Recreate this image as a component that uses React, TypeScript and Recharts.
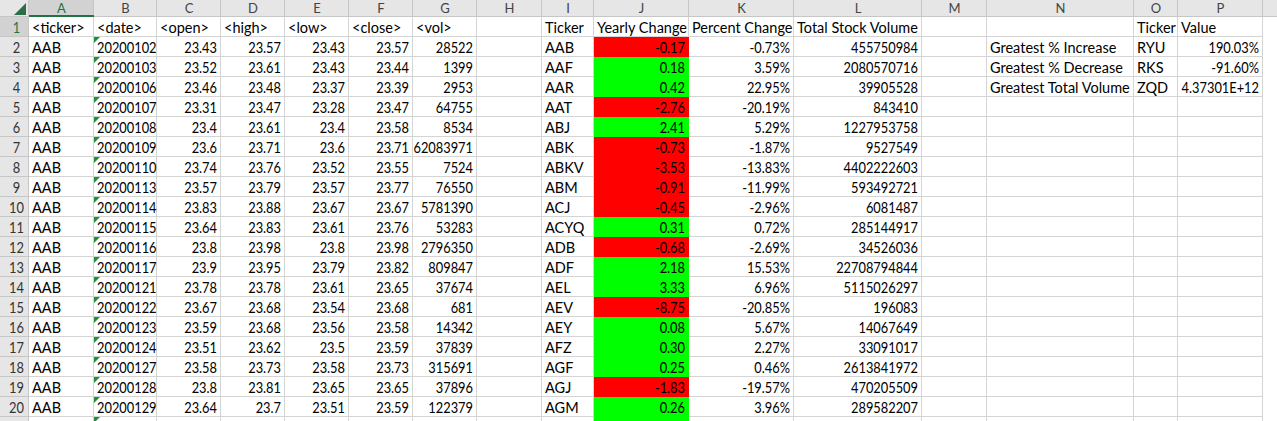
import React from "react";
import { Bar, BarChart, ReferenceArea, XAxis, YAxis } from "recharts";

const FONT = "Lato, 'Liberation Sans', sans-serif";
const GRID = "#D4D4D4";
const HEADER_BG = "#E6E6E6";
const HEADER_LINE = "#C6C6C6";
const HEADER_SEL = "#D2D2D2";
const EXCEL_GREEN = "#217346";
const FLAG_GREEN = "#1E8F3A";
const RED = "#FF0000";
const LIME = "#00FF00";
// Lato figures are wider than the sheet's; squeeze numeric strings a little
const DIGIT_SQUEEZE = 0.885;

// sheet rows 1..21 (21 is cut off at the bottom)
const rowNumbers = [1, 2, 3, 4, 5, 6, 7, 8, 9, 10, 11, 12, 13, 14, 15, 16, 17, 18, 19, 20, 21];

// raw data, columns A..G
const rawHeaders = ["<ticker>", "<date>", "<open>", "<high>", "<low>", "<close>", "<vol>"];
const tickers = [
  "AAB", "AAB", "AAB", "AAB", "AAB", "AAB", "AAB", "AAB", "AAB", "AAB",
  "AAB", "AAB", "AAB", "AAB", "AAB", "AAB", "AAB", "AAB", "AAB",
];
const dates = [
  "20200102", "20200103", "20200106", "20200107", "20200108", "20200109", "20200110",
  "20200113", "20200114", "20200115", "20200116", "20200117", "20200121", "20200122",
  "20200123", "20200124", "20200127", "20200128", "20200129",
];
const opens = [23.43, 23.52, 23.46, 23.31, 23.4, 23.6, 23.74, 23.57, 23.83, 23.64, 23.8, 23.9, 23.78, 23.67, 23.59, 23.51, 23.58, 23.8, 23.64];
const highs = [23.57, 23.61, 23.48, 23.47, 23.61, 23.71, 23.76, 23.79, 23.88, 23.83, 23.98, 23.95, 23.78, 23.68, 23.68, 23.62, 23.73, 23.81, 23.7];
const lows = [23.43, 23.43, 23.37, 23.28, 23.4, 23.6, 23.52, 23.57, 23.67, 23.61, 23.8, 23.79, 23.61, 23.54, 23.56, 23.5, 23.58, 23.65, 23.51];
const closes = [23.57, 23.44, 23.39, 23.47, 23.58, 23.71, 23.55, 23.77, 23.67, 23.76, 23.98, 23.82, 23.65, 23.68, 23.58, 23.59, 23.73, 23.65, 23.59];
const vols = [28522, 1399, 2953, 64755, 8534, 62083971, 7524, 76550, 5781390, 53283, 2796350, 809847, 37674, 681, 14342, 37839, 315691, 37896, 122379];

// summary table, columns I..L
const summaryHeaders = ["Ticker", "Yearly Change", "Percent Change", "Total Stock Volume"];
const summaryTickers = [
  "AAB", "AAF", "AAR", "AAT", "ABJ", "ABK", "ABKV", "ABM", "ACJ", "ACYQ",
  "ADB", "ADF", "AEL", "AEV", "AEY", "AFZ", "AGF", "AGJ", "AGM",
];
// last value belongs to the cut-off row 21: only its green fill shows
const yearlyChanges = [-0.17, 0.18, 0.42, -2.76, 2.41, -0.73, -3.53, -0.91, -0.45, 0.31, -0.68, 2.18, 3.33, -8.75, 0.08, 0.3, 0.25, -1.83, 0.26, 0.5];
const percentChanges = [-0.73, 3.59, 22.95, -20.19, 5.29, -1.87, -13.83, -11.99, -2.96, 0.72, -2.69, 15.53, 6.96, -20.85, 5.67, 2.27, 0.46, -19.57, 3.96];
const totalVolumes = [
  455750984, 2080570716, 39905528, 843410, 1227953758, 9527549, 4402222603, 593492721, 6081487,
  285144917, 34526036, 22708794844, 5115026297, 196083, 14067649, 33091017, 2613841972, 470205509, 289582207,
];

// greatest table, columns N..P
const greatestHeaders = ["Ticker", "Value"];
const greatestLabels = ["Greatest % Increase", "Greatest % Decrease", "Greatest Total Volume"];
const greatestTickers = ["RYU", "RKS", "ZQD"];
const greatestValues = ["190.03%", "-91.60%", "4.37301E+12"];

// column layout (pixel widths)
const columnDefs = [
  { key: "hdr", label: "", width: 29 },
  { key: "A", label: "A", width: 65 },
  { key: "B", label: "B", width: 63 },
  { key: "C", label: "C", width: 64 },
  { key: "D", label: "D", width: 64 },
  { key: "E", label: "E", width: 64 },
  { key: "F", label: "F", width: 64 },
  { key: "G", label: "G", width: 64 },
  { key: "H", label: "H", width: 65 },
  { key: "I", label: "I", width: 52 },
  { key: "J", label: "J", width: 95 },
  { key: "K", label: "K", width: 105 },
  { key: "L", label: "L", width: 128 },
  { key: "M", label: "M", width: 65 },
  { key: "N", label: "N", width: 147 },
  { key: "O", label: "O", width: 44 },
  { key: "P", label: "P", width: 85 },
  { key: "rest", label: "", width: 14 },
];

let acc = 0;
const columns = columnDefs.map((c) => {
  const start = acc;
  acc += c.width;
  return { ...c, start, center: start + c.width / 2 };
});
const TOTAL_W = acc;
const colA = columns.find((c) => c.key === "A")!;

type SheetCell = { text?: string; right?: boolean; fill?: string; flag?: boolean };

const txt = (v?: string): SheetCell => (v === undefined ? {} : { text: v });
const num = (v?: number | string): SheetCell => (v === undefined ? {} : { text: String(v), right: true });

const rows = rowNumbers.map((n) => {
  const i = n - 2;
  const cells: Record<string, SheetCell> = {};
  // row 21's number sits below the visible edge
  cells.hdr = n <= 20 ? { text: String(n) } : {};
  if (n === 1) {
    ["A", "B", "C", "D", "E", "F", "G"].forEach((k, j) => (cells[k] = txt(rawHeaders[j])));
    ["I", "J", "K", "L"].forEach((k, j) => (cells[k] = txt(summaryHeaders[j])));
    cells.O = txt(greatestHeaders[0]);
    cells.P = txt(greatestHeaders[1]);
  } else {
    cells.A = txt(tickers[i]);
    cells.B = { ...txt(dates[i]), flag: true };
    cells.C = num(opens[i]);
    cells.D = num(highs[i]);
    cells.E = num(lows[i]);
    cells.F = num(closes[i]);
    cells.G = num(vols[i]);
    cells.I = txt(summaryTickers[i]);
    const yc = yearlyChanges[i];
    if (yc !== undefined) {
      cells.J = {
        text: summaryTickers[i] !== undefined ? yc.toFixed(2) : undefined,
        right: true,
        fill: yc < 0 ? RED : LIME,
      };
    }
    const pc = percentChanges[i];
    cells.K = pc === undefined ? {} : num(pc.toFixed(2) + "%");
    cells.L = num(totalVolumes[i]);
    cells.N = txt(greatestLabels[i]);
    cells.O = txt(greatestTickers[i]);
    cells.P = num(greatestValues[i]);
  }
  const row: Record<string, unknown> = { row: String(n), cells };
  columns.forEach((c) => (row[c.key] = c.width));
  return row;
});

const isNumeric = (s: string) => /^[-+0-9.%E]+$/.test(s);

function CellText({ x, y, text, anchor, fill, size = 14.5 }: any) {
  const squeeze = isNumeric(text) ? DIGIT_SQUEEZE : 1;
  return (
    <text
      transform={`translate(${x},${y}) scale(${squeeze},1)`}
      x={0}
      y={0}
      textAnchor={anchor}
      fontFamily={FONT}
      fontSize={size}
      fill={fill}
    >
      {text}
    </text>
  );
}

const makeCellShape = (colKey: string) => (props: any) => {
  const { x, y, width, height, payload } = props;
  const rowNum = Number(payload.row);
  const cell: SheetCell = (payload.cells && payload.cells[colKey]) || {};
  if (colKey === "rest") {
    return <rect x={x} y={y} width={width} height={height} fill="#FFFFFF" />;
  }
  if (colKey === "hdr") {
    const sel = rowNum === 1;
    return (
      <g>
        <rect x={x} y={y} width={width} height={height} fill={sel ? HEADER_SEL : HEADER_BG} />
        <line x1={x + width - 0.5} y1={y} x2={x + width - 0.5} y2={y + height} stroke={HEADER_LINE} />
        <line x1={x} y1={y + height - 0.5} x2={x + width} y2={y + height - 0.5} stroke={HEADER_LINE} />
        {cell.text && (
          <CellText
            x={x + width / 2 + 2}
            y={y + height - 4}
            text={cell.text}
            anchor="middle"
            fill={sel ? EXCEL_GREEN : "#333333"}
          />
        )}
      </g>
    );
  }
  const filled = !!cell.fill;
  return (
    <g>
      <rect x={x} y={y} width={width} height={height} fill={cell.fill || "#FFFFFF"} />
      {!filled && (
        <>
          <line x1={x + width - 0.5} y1={y} x2={x + width - 0.5} y2={y + height} stroke={GRID} />
          <line x1={x} y1={y + height - 0.5} x2={x + width} y2={y + height - 0.5} stroke={GRID} />
        </>
      )}
      {cell.flag && (
        <polygon points={`${x},${y} ${x + 6},${y} ${x},${y + 6}`} fill={FLAG_GREEN} />
      )}
      {cell.text && (
        <CellText
          x={cell.right ? x + width - 4 : x + 3}
          y={y + height - 4}
          text={cell.text}
          anchor={cell.right ? "end" : "start"}
          fill="#000000"
        />
      )}
    </g>
  );
};

function ColumnHeader(props: any) {
  const { x, payload } = props;
  const col = columns.find((c) => Math.abs(c.center - payload.value) < 0.01);
  if (!col) return null;
  const left = x - col.width / 2;
  const sel = col.key === "A";
  if (col.key === "hdr") {
    return (
      <g>
        <rect x={left} y={0} width={col.width} height={17} fill={HEADER_BG} />
        <line x1={left + col.width - 0.5} y1={0} x2={left + col.width - 0.5} y2={17} stroke={HEADER_LINE} />
        <line x1={left} y1={16.5} x2={left + col.width} y2={16.5} stroke={HEADER_LINE} />
        <polygon points={`${left + 26},3 ${left + 26},15 ${left + 14},15`} fill="#2A6E48" />
      </g>
    );
  }
  return (
    <g>
      <rect x={left} y={0} width={col.width} height={17} fill={sel ? HEADER_SEL : HEADER_BG} />
      {col.key !== "rest" && (
        <line x1={left + col.width - 0.5} y1={0} x2={left + col.width - 0.5} y2={17} stroke={HEADER_LINE} />
      )}
      {sel ? (
        <line x1={left} y1={16} x2={left + col.width} y2={16} stroke={EXCEL_GREEN} strokeWidth={2} />
      ) : (
        <line x1={left} y1={16.5} x2={left + col.width} y2={16.5} stroke={HEADER_LINE} />
      )}
      <text
        x={x}
        y={13}
        textAnchor="middle"
        fontFamily={FONT}
        fontSize={13}
        fill={sel ? EXCEL_GREEN : "#444444"}
      >
        {col.label}
      </text>
    </g>
  );
}

function SelectionBox(props: any) {
  const { x, y, width, height } = props;
  return (
    <g>
      <rect x={x} y={y} width={width - 1} height={height} fill="none" stroke={EXCEL_GREEN} strokeWidth={2} />
      <rect x={x + width - 4} y={y + height - 3} width={6} height={6} fill={EXCEL_GREEN} stroke="#FFFFFF" strokeWidth={1} />
    </g>
  );
}

export default function App() {
  return (
    <div style={{ width: 1277, height: 421, overflow: "hidden", background: "#FFFFFF" }}>
      <style>{"body{margin:0;}"}</style>
      <BarChart
        width={1277}
        height={437}
        data={rows}
        layout="vertical"
        margin={{ top: 0, right: 0, bottom: 0, left: 0 }}
        barCategoryGap={0}
        barGap={0}
      >
        <XAxis
          type="number"
          orientation="top"
          domain={[0, TOTAL_W]}
          ticks={columns.map((c) => c.center)}
          interval={0}
          height={17}
          axisLine={false}
          tickLine={false}
          tick={<ColumnHeader />}
        />
        <YAxis type="category" dataKey="row" hide />
        {columns.map((c) => (
          <Bar
            key={c.key}
            dataKey={c.key}
            stackId="sheet"
            isAnimationActive={false}
            shape={makeCellShape(c.key)}
          />
        ))}
        <ReferenceArea
          x1={colA.start}
          x2={colA.start + colA.width}
          y1="1"
          y2="1"
          shape={<SelectionBox />}
        />
      </BarChart>
    </div>
  );
}
